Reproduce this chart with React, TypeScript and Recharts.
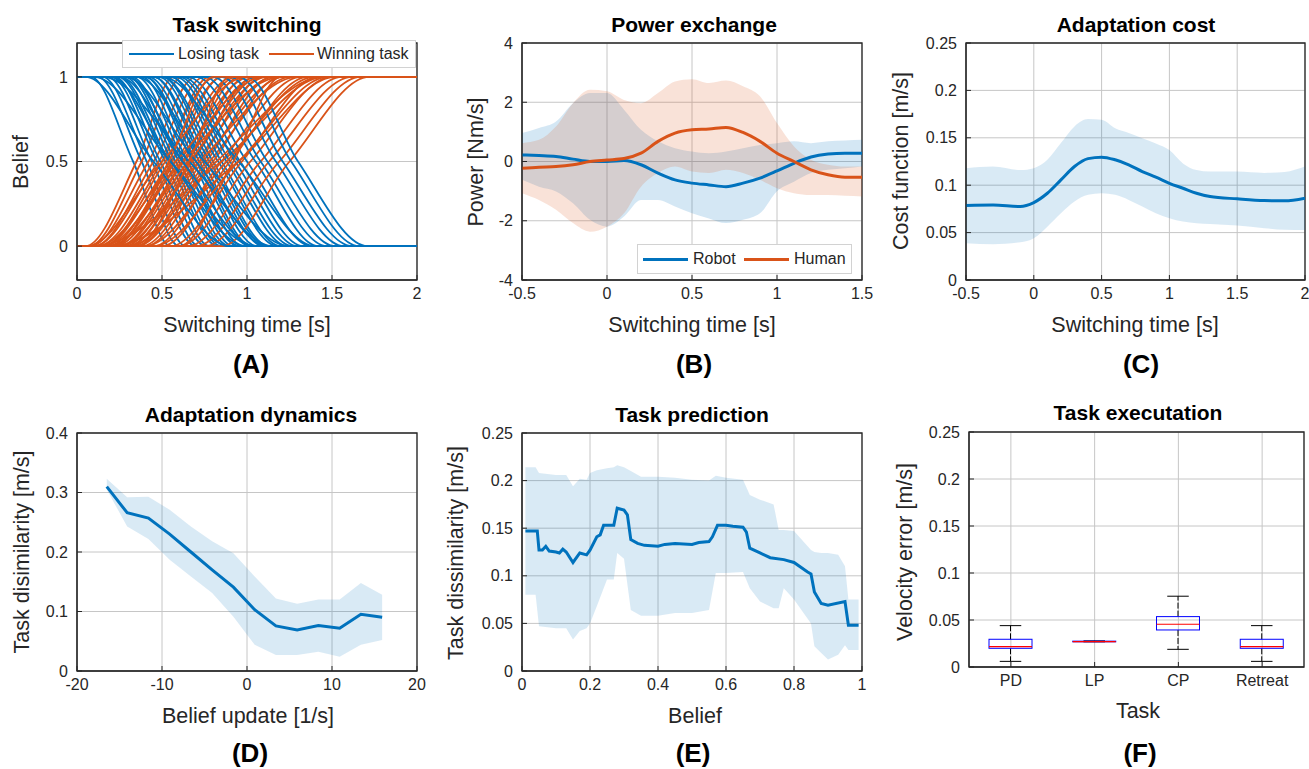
import React from 'react';
import { ComposedChart, Line, Area, Bar, XAxis, YAxis, CartesianGrid, ReferenceArea } from 'recharts';

const FONT = '"Liberation Sans", Arial, Helvetica, sans-serif';
const BLUE = '#0072BD';
const ORANGE = '#D95319';
const GRID = '#c6c6c6';
const AXIS = '#262626';

// ---------- Panel A: Task switching ----------
const switchTicksX = [0, 0.5, 1, 1.5, 2];
const beliefTicksY = [0, 0.5, 1];
// each curve: [time it leaves its start level, time it crosses 0.5, time it settles]
const losingTask: number[][] = [
  [0.08, 0.33, 0.55], [0.12, 0.38, 0.6], [0.15, 0.41, 0.64], [0.18, 0.44, 0.7], [0.2, 0.47, 0.72],
  [0.22, 0.49, 0.76], [0.24, 0.52, 0.78], [0.25, 0.54, 0.83], [0.28, 0.56, 0.85], [0.3, 0.58, 0.88],
  [0.32, 0.6, 0.9], [0.3, 0.62, 0.96], [0.35, 0.63, 0.92], [0.38, 0.65, 0.95], [0.4, 0.68, 0.98],
  [0.4, 0.7, 1.02], [0.42, 0.72, 1.03], [0.45, 0.74, 1.06], [0.45, 0.76, 1.1], [0.48, 0.78, 1.12],
  [0.5, 0.8, 1.13], [0.5, 0.83, 1.18], [0.55, 0.85, 1.2], [0.55, 0.88, 1.24], [0.58, 0.9, 1.27],
  [0.6, 0.93, 1.3], [0.62, 0.96, 1.33], [0.65, 1.0, 1.38], [0.7, 1.05, 1.42], [0.75, 1.08, 1.47],
  [0.8, 1.12, 1.52], [0.85, 1.17, 1.57], [0.9, 1.21, 1.62], [0.95, 1.26, 1.66], [1.0, 1.3, 1.71],
  [0.35, 0.75, 1.25], [0.2, 0.55, 1.0], [0.05, 0.45, 0.9], [0.1, 0.55, 1.05], [0.15, 0.66, 1.15],
  [0.28, 0.7, 1.12], [0.5, 0.95, 1.4], [0.25, 0.62, 1.05],
];
const winningTask: number[][] = [
  [0.05, 0.35, 0.57], [0.07, 0.38, 0.62], [0.08, 0.42, 0.7], [0.1, 0.45, 0.75], [0.1, 0.48, 0.82],
  [0.12, 0.5, 0.78], [0.15, 0.52, 0.86], [0.15, 0.55, 0.92], [0.18, 0.56, 0.85], [0.2, 0.58, 0.94],
  [0.2, 0.6, 1.02], [0.22, 0.62, 0.96], [0.25, 0.63, 1.06], [0.25, 0.65, 1.0], [0.28, 0.67, 1.12],
  [0.3, 0.68, 1.05], [0.3, 0.7, 1.16], [0.32, 0.72, 1.1], [0.35, 0.74, 1.22], [0.35, 0.76, 1.15],
  [0.38, 0.78, 1.26], [0.4, 0.8, 1.2], [0.1, 0.85, 1.46], [0.45, 0.85, 1.32], [0.5, 0.9, 1.36],
  [0.2, 0.95, 1.52], [0.55, 0.97, 1.42], [0.6, 1.02, 1.5], [0.65, 1.08, 1.56], [0.7, 1.13, 1.62],
  [0.75, 1.19, 1.67], [0.85, 1.25, 1.72], [0.15, 0.62, 1.2], [0.25, 0.72, 1.3], [0.4, 0.88, 1.4],
  [0.12, 0.58, 1.1], [0.3, 0.82, 1.45], [0.06, 0.5, 1.0], [0.18, 0.66, 1.08], [0.22, 0.54, 0.8],
  [0.35, 0.66, 0.9], [0.45, 0.95, 1.48], [0.6, 0.92, 1.2],
];

// ---------- Panel B: Power exchange ----------
const powerTicksX = [-0.5, 0, 0.5, 1, 1.5];
const powerTicksY = [-4, -2, 0, 2, 4];
const powerTime = [-0.5, -0.4, -0.3, -0.2, -0.1, 0, 0.1, 0.2, 0.3, 0.4, 0.5, 0.6, 0.7, 0.8, 0.9, 1.0, 1.1, 1.2, 1.3, 1.4, 1.5];
const robotMean = [0.22, 0.2, 0.17, 0.08, 0.0, 0.0, 0.03, -0.11, -0.39, -0.62, -0.73, -0.79, -0.85, -0.73, -0.56, -0.32, -0.06, 0.15, 0.25, 0.28, 0.28];
const robotUpper = [0.96, 1.13, 1.35, 1.97, 2.31, 2.31, 1.75, 1.07, 0.68, 0.45, 0.34, 0.28, 0.34, 0.45, 0.56, 0.62, 0.68, 0.62, 0.68, 0.71, 0.73];
const robotLower = [-0.62, -0.85, -1.01, -1.41, -1.97, -2.2, -1.86, -1.3, -1.3, -1.52, -1.75, -1.92, -2.08, -1.97, -1.75, -1.0, -0.68, -0.39, -0.28, -0.23, -0.17];
const humanMean = [-0.23, -0.19, -0.17, -0.11, 0.0, 0.05, 0.1, 0.28, 0.68, 0.96, 1.07, 1.1, 1.15, 0.98, 0.68, 0.28, 0.0, -0.28, -0.45, -0.53, -0.53];
const humanUpper = [0.62, 0.73, 1.18, 1.97, 2.42, 2.37, 2.08, 1.97, 2.31, 2.7, 2.78, 2.65, 2.73, 2.54, 2.2, 1.3, 0.51, 0.06, -0.11, -0.17, -0.17];
const humanLower = [-1.07, -1.3, -1.63, -2.08, -2.37, -2.2, -1.75, -0.85, -0.39, -0.17, -0.34, -0.39, -0.28, -0.39, -0.62, -0.9, -1.07, -1.13, -1.13, -1.16, -1.18];

// ---------- Panel C: Adaptation cost ----------
const costTicksX = [-0.5, 0, 0.5, 1, 1.5, 2];
const costTicksY = [0, 0.05, 0.1, 0.15, 0.2, 0.25];
const costTime = [-0.5, -0.3, -0.1, 0, 0.1, 0.2, 0.3, 0.4, 0.5, 0.6, 0.7, 0.8, 0.9, 1.0, 1.1, 1.2, 1.3, 1.5, 1.7, 1.85, 2.0];
const costMean = [0.0785, 0.079, 0.0775, 0.0817, 0.0915, 0.1056, 0.1197, 0.128, 0.1296, 0.1268, 0.1215, 0.1144, 0.1085, 0.102, 0.0968, 0.0915, 0.088, 0.0856, 0.0838, 0.0835, 0.0863];
const costUpper = [0.118, 0.1197, 0.116, 0.118, 0.1268, 0.1444, 0.162, 0.1697, 0.169, 0.16, 0.155, 0.1496, 0.144, 0.137, 0.123, 0.116, 0.1144, 0.1144, 0.113, 0.114, 0.1197];
const costLower = [0.0387, 0.0377, 0.0398, 0.044, 0.0563, 0.0704, 0.0827, 0.0898, 0.0915, 0.0898, 0.0845, 0.0775, 0.0704, 0.0651, 0.0616, 0.0599, 0.059, 0.0575, 0.0546, 0.053, 0.0528];

// ---------- Panel D: Adaptation dynamics ----------
const dynTicksX = [-20, -10, 0, 10, 20];
const dynTicksY = [0, 0.1, 0.2, 0.3, 0.4];
const beliefUpdate = [-16.5, -14.1, -11.6, -9.1, -6.6, -4.1, -1.6, 0.9, 3.4, 5.9, 8.4, 10.9, 13.4, 15.9];
const dynMean = [0.31, 0.266, 0.257, 0.23, 0.2, 0.17, 0.141, 0.103, 0.0757, 0.069, 0.0763, 0.0718, 0.0954, 0.0903];
const dynUpper = [0.323, 0.292, 0.293, 0.271, 0.243, 0.218, 0.198, 0.159, 0.122, 0.113, 0.12, 0.12, 0.148, 0.128];
const dynLower = [0.305, 0.243, 0.222, 0.187, 0.159, 0.131, 0.091, 0.044, 0.027, 0.027, 0.0325, 0.024, 0.044, 0.052];

// ---------- Panel E: Task prediction ----------
const predTicksX = [0, 0.2, 0.4, 0.6, 0.8, 1];
const predTicksY = [0, 0.05, 0.1, 0.15, 0.2, 0.25];
const predBelief = [0.01, 0.045, 0.05, 0.06, 0.07, 0.08, 0.1, 0.11, 0.12, 0.13, 0.15, 0.17, 0.19, 0.2, 0.22, 0.23, 0.24, 0.26, 0.27, 0.28, 0.3, 0.31, 0.32, 0.34, 0.36, 0.4, 0.42, 0.45, 0.5, 0.52, 0.55, 0.56, 0.575, 0.6, 0.62, 0.65, 0.66, 0.67, 0.7, 0.73, 0.77, 0.8, 0.84, 0.85, 0.86, 0.88, 0.9, 0.95, 0.96, 0.99];
const predMean = [0.147, 0.147, 0.127, 0.127, 0.131, 0.126, 0.125, 0.124, 0.128, 0.125, 0.114, 0.124, 0.122, 0.127, 0.141, 0.143, 0.153, 0.153, 0.153, 0.171, 0.169, 0.164, 0.138, 0.134, 0.132, 0.131, 0.133, 0.134, 0.133, 0.135, 0.136, 0.141, 0.153, 0.153, 0.152, 0.151, 0.146, 0.129, 0.124, 0.119, 0.117, 0.114, 0.104, 0.102, 0.083, 0.071, 0.069, 0.073, 0.048, 0.048];
const predBandBelief = [0.01, 0.04, 0.05, 0.1, 0.13, 0.15, 0.17, 0.19, 0.2, 0.22, 0.25, 0.27, 0.28, 0.3, 0.32, 0.35, 0.4, 0.45, 0.5, 0.55, 0.57, 0.6, 0.65, 0.67, 0.7, 0.74, 0.755, 0.77, 0.8, 0.85, 0.86, 0.88, 0.9, 0.93, 0.95, 0.96, 0.99];
const predUpper = [0.214, 0.214, 0.208, 0.206, 0.206, 0.194, 0.202, 0.201, 0.208, 0.211, 0.213, 0.214, 0.216, 0.214, 0.21, 0.204, 0.204, 0.203, 0.201, 0.2, 0.205, 0.203, 0.201, 0.185, 0.18, 0.175, 0.148, 0.148, 0.147, 0.127, 0.125, 0.124, 0.124, 0.122, 0.11, 0.075, 0.075];
const predLower = [0.08, 0.08, 0.047, 0.045, 0.045, 0.033, 0.042, 0.045, 0.05, 0.068, 0.096, 0.096, 0.124, 0.118, 0.064, 0.058, 0.058, 0.061, 0.061, 0.064, 0.103, 0.103, 0.104, 0.087, 0.073, 0.066, 0.066, 0.087, 0.075, 0.05, 0.026, 0.019, 0.012, 0.017, 0.027, 0.022, 0.022];

// ---------- Panel F: Task executation ----------
const execTicksY = [0, 0.05, 0.1, 0.15, 0.2, 0.25];
const taskNames = ['PD', 'LP', 'CP', 'Retreat'];
const whiskerLow = [0.006, 0.0268, 0.0188, 0.006];
const quartile1 = [0.0199, 0.0268, 0.0394, 0.0199];
const medians = [0.0217, 0.027, 0.0455, 0.0217];
const quartile3 = [0.0295, 0.0275, 0.0536, 0.0295];
const whiskerHigh = [0.044, 0.0278, 0.0753, 0.044];

// ---------- derived tables ----------
const sCurve = (c: number[], from: number, to: number) => [
  { x: 0, y: from },
  { x: c[0], y: from },
  { x: c[1], y: 0.5 },
  { x: c[2], y: to },
  { x: 2, y: to },
];
const powerData = powerTime.map((x, i) => ({
  x,
  robot: robotMean[i],
  human: humanMean[i],
  robotBand: [robotLower[i], robotUpper[i]],
  humanBand: [humanLower[i], humanUpper[i]],
}));
const costData = costTime.map((x, i) => ({ x, mean: costMean[i], band: [costLower[i], costUpper[i]] }));
const dynData = beliefUpdate.map((x, i) => ({ x, mean: dynMean[i], band: [dynLower[i], dynUpper[i]] }));
const predLineData = predBelief.map((x, i) => ({ x, mean: predMean[i] }));
const predBandData = predBandBelief.map((x, i) => ({ x, band: [predLower[i], predUpper[i]] }));
const execData = taskNames.map((task, i) => ({
  task,
  lo: whiskerLow[i],
  q1: quartile1[i],
  med: medians[i],
  q3: quartile3[i],
  hi: whiskerHigh[i],
}));

const tickFont = { fontSize: 16, fill: AXIS, fontFamily: FONT };
const axisCommon = {
  axisLine: { stroke: AXIS, strokeWidth: 1 },
  tickLine: { stroke: AXIS, strokeWidth: 1 },
  tickSize: -5,
};

function frameAxes(xDomain: number[] | null, xTicks: number[] | null, yDomain: number[], yTicks: number[]) {
  const xb = xDomain ? (
    <XAxis key="xb" xAxisId={0} dataKey="x" type="number" domain={xDomain} ticks={xTicks!} interval={0}
      allowDataOverflow height={30} tickMargin={13} tick={tickFont} {...axisCommon} />
  ) : (
    <XAxis key="xb" xAxisId={0} dataKey="task" type="category" interval={0} height={30} tickMargin={13}
      tick={tickFont} {...axisCommon} />
  );
  const box = xDomain ? (
    <ReferenceArea key="box" x1={xDomain[0]} x2={xDomain[1]} y1={yDomain[0]} y2={yDomain[1]}
      fill="none" stroke={AXIS} strokeWidth={1.3} ifOverflow="visible" />
  ) : (
    <ReferenceArea key="box" x1={taskNames[0]} x2={taskNames[taskNames.length - 1]} y1={yDomain[0]} y2={yDomain[1]}
      fill="none" stroke={AXIS} strokeWidth={1.3} ifOverflow="visible" />
  );
  return [
    <CartesianGrid key="grid" stroke={GRID} strokeWidth={1} />,
    xb,
    <YAxis key="yl" yAxisId={0} type="number" domain={yDomain} ticks={yTicks} interval={0} allowDataOverflow
      width={60} tickMargin={14} tick={tickFont} {...axisCommon} />,
    box,
  ];
}

type Frame = { left: number; top: number; w: number; h: number };
const MT = 10, MR = 22, YW = 60, XH = 30;
function Holder({ f, children }: { f: Frame; children: React.ReactNode }) {
  return <div style={{ position: 'absolute', left: f.left - YW, top: f.top - MT }}>{children}</div>;
}
const chartSize = (f: Frame) => ({
  width: YW + f.w + MR,
  height: MT + f.h + XH,
  margin: { top: MT, right: MR, bottom: 0, left: 0 },
});

const BoxShape = (props: any) => {
  const { x, y, width, height, payload } = props;
  if (!payload || !(payload.hi > 0)) return null;
  const py = (v: number) => y + height * (1 - v / payload.hi);
  const cx = x + width / 2;
  const cap = width / 4;
  return (
    <g>
      <line x1={cx} x2={cx} y1={py(payload.q3)} y2={py(payload.hi)} stroke="#000" strokeDasharray="6 2" />
      <line x1={cx} x2={cx} y1={py(payload.q1)} y2={py(payload.lo)} stroke="#000" strokeDasharray="6 2" />
      <line x1={cx - cap} x2={cx + cap} y1={py(payload.hi)} y2={py(payload.hi)} stroke="#000" />
      <line x1={cx - cap} x2={cx + cap} y1={py(payload.lo)} y2={py(payload.lo)} stroke="#000" />
      <rect x={x} y={py(payload.q3)} width={width} height={Math.max(0.5, py(payload.q1) - py(payload.q3))}
        fill="none" stroke="#0000FF" strokeWidth={1} />
      <line x1={x} x2={x + width} y1={py(payload.med)} y2={py(payload.med)} stroke="#FF0000" strokeWidth={1.2} />
    </g>
  );
};

function Txt({ x, y, size, bold, rotate, children }: any) {
  return (
    <div
      style={{
        position: 'absolute', left: x, top: y,
        transform: `translate(-50%, -50%)${rotate ? ' rotate(-90deg)' : ''}`,
        fontSize: size, fontWeight: bold ? 700 : 400, lineHeight: 1, whiteSpace: 'nowrap',
        color: bold ? '#000' : AXIS, fontFamily: FONT,
      }}
    >
      {children}
    </div>
  );
}

const fA: Frame = { left: 77, top: 43, w: 340, h: 237 };
const fB: Frame = { left: 522, top: 43, w: 340, h: 237 };
const fC: Frame = { left: 966, top: 43, w: 339, h: 237 };
const fD: Frame = { left: 77, top: 433, w: 340, h: 238 };
const fE: Frame = { left: 522, top: 433, w: 340, h: 238 };
const fF: Frame = { left: 969, top: 432, w: 335, h: 235 };

function LegendLine({ x, color, w }: { x: number; color: string; w: number }) {
  return <div style={{ position: 'absolute', left: x, top: '50%', width: 45, height: w, marginTop: -w / 2, background: color }} />;
}
function LegendText({ x, children }: any) {
  return (
    <div style={{ position: 'absolute', left: x, top: '50%', transform: 'translateY(-50%)', fontSize: 16, lineHeight: 1, color: AXIS, fontFamily: FONT, whiteSpace: 'nowrap' }}>
      {children}
    </div>
  );
}

export default function App() {
  const nCurves = Math.max(losingTask.length, winningTask.length);
  const curveLines: React.ReactNode[] = [];
  for (let i = 0; i < nCurves; i++) {
    if (losingTask[i]) {
      curveLines.push(
        <Line key={`l${i}`} data={sCurve(losingTask[i], 1, 0)} dataKey="y" type="monotone" stroke={BLUE}
          strokeWidth={1.8} dot={false} activeDot={false} isAnimationActive={false} />
      );
    }
    if (winningTask[i]) {
      curveLines.push(
        <Line key={`w${i}`} data={sCurve(winningTask[i], 0, 1)} dataKey="y" type="monotone" stroke={ORANGE}
          strokeWidth={1.8} dot={false} activeDot={false} isAnimationActive={false} />
      );
    }
  }

  return (
    <div style={{ position: 'absolute', left: 0, top: 0, width: 1309, height: 769, background: '#fff', overflow: 'hidden', fontFamily: FONT }}>
      {/* A */}
      <Holder f={fA}>
        <ComposedChart {...chartSize(fA)}>
          {frameAxes([0, 2], switchTicksX, [-0.2, 1.2], beliefTicksY)}
          {curveLines}
        </ComposedChart>
      </Holder>
      {/* B */}
      <Holder f={fB}>
        <ComposedChart {...chartSize(fB)} data={powerData}>
          {frameAxes([-0.5, 1.5], powerTicksX, [-4, 4], powerTicksY)}
          <Area dataKey="robotBand" type="monotone" stroke="none" fill={BLUE} fillOpacity={0.17} isAnimationActive={false} activeDot={false} />
          <Area dataKey="humanBand" type="monotone" stroke="none" fill={ORANGE} fillOpacity={0.17} isAnimationActive={false} activeDot={false} />
          <Line dataKey="robot" type="monotone" stroke={BLUE} strokeWidth={3} dot={false} activeDot={false} isAnimationActive={false} />
          <Line dataKey="human" type="monotone" stroke={ORANGE} strokeWidth={3} dot={false} activeDot={false} isAnimationActive={false} />
        </ComposedChart>
      </Holder>
      {/* C */}
      <Holder f={fC}>
        <ComposedChart {...chartSize(fC)} data={costData}>
          {frameAxes([-0.5, 2], costTicksX, [0, 0.25], costTicksY)}
          <Area dataKey="band" type="monotone" stroke="none" fill={BLUE} fillOpacity={0.15} isAnimationActive={false} activeDot={false} />
          <Line dataKey="mean" type="monotone" stroke={BLUE} strokeWidth={3} dot={false} activeDot={false} isAnimationActive={false} />
        </ComposedChart>
      </Holder>
      {/* D */}
      <Holder f={fD}>
        <ComposedChart {...chartSize(fD)} data={dynData}>
          {frameAxes([-20, 20], dynTicksX, [0, 0.4], dynTicksY)}
          <Area dataKey="band" type="linear" stroke="none" fill={BLUE} fillOpacity={0.15} isAnimationActive={false} activeDot={false} />
          <Line dataKey="mean" type="linear" stroke={BLUE} strokeWidth={3} dot={false} activeDot={false} isAnimationActive={false} />
        </ComposedChart>
      </Holder>
      {/* E */}
      <Holder f={fE}>
        <ComposedChart {...chartSize(fE)}>
          {frameAxes([0, 1], predTicksX, [0, 0.25], predTicksY)}
          <Area data={predBandData} dataKey="band" type="linear" stroke="none" fill={BLUE} fillOpacity={0.15} isAnimationActive={false} activeDot={false} />
          <Line data={predLineData} dataKey="mean" type="linear" stroke={BLUE} strokeWidth={3} dot={false} activeDot={false} isAnimationActive={false} />
        </ComposedChart>
      </Holder>
      {/* F */}
      <Holder f={fF}>
        <ComposedChart {...chartSize(fF)} data={execData}>
          {frameAxes(null, null, [0, 0.25], execTicksY)}
          <Bar dataKey="hi" barSize={43} shape={BoxShape} fill="none" isAnimationActive={false} activeBar={false} />
        </ComposedChart>
      </Holder>

      {/* legends */}
      <div style={{ position: 'absolute', left: 122, top: 40, width: 294, height: 28, background: '#fff', border: '1px solid #d2d2d2', boxSizing: 'border-box' }}>
        <LegendLine x={6} color={BLUE} w={2} />
        <LegendText x={55}>Losing task</LegendText>
        <LegendLine x={146} color={ORANGE} w={2} />
        <LegendText x={194}>Winning task</LegendText>
      </div>
      <div style={{ position: 'absolute', left: 637, top: 244, width: 215, height: 30, background: '#fff', border: '1px solid #d2d2d2', boxSizing: 'border-box' }}>
        <LegendLine x={5} color={BLUE} w={3} />
        <LegendText x={55}>Robot</LegendText>
        <LegendLine x={106} color={ORANGE} w={3} />
        <LegendText x={156}>Human</LegendText>
      </div>

      {/* titles */}
      <Txt x={247} y={24} size={21} bold>Task switching</Txt>
      <Txt x={694} y={24} size={21} bold>Power exchange</Txt>
      <Txt x={1136} y={24} size={21} bold>Adaptation cost</Txt>
      <Txt x={251} y={414} size={21} bold>Adaptation dynamics</Txt>
      <Txt x={692} y={414} size={21} bold>Task prediction</Txt>
      <Txt x={1138} y={412} size={21} bold>Task executation</Txt>

      {/* x labels */}
      <Txt x={247} y={326} size={21.5}>Switching time [s]</Txt>
      <Txt x={692} y={326} size={21.5}>Switching time [s]</Txt>
      <Txt x={1135} y={326} size={21.5}>Switching time [s]</Txt>
      <Txt x={248} y={717} size={21.5}>Belief update [1/s]</Txt>
      <Txt x={695} y={717} size={21.5}>Belief</Txt>
      <Txt x={1138} y={712} size={21.5}>Task</Txt>

      {/* y labels */}
      <Txt x={22} y={162} size={21.5} rotate>Belief</Txt>
      <Txt x={477} y={162} size={21.5} rotate>Power [Nm/s]</Txt>
      <Txt x={902} y={161} size={21.5} rotate>Cost function [m/s]</Txt>
      <Txt x={23} y={552} size={21.5} rotate>Task disimilarity [m/s]</Txt>
      <Txt x={457} y={553} size={21.5} rotate>Task dissimilarity [m/s]</Txt>
      <Txt x={906} y={552} size={21.5} rotate>Velocity error [m/s]</Txt>

      {/* panel letters */}
      <Txt x={251} y={364} size={26} bold>(A)</Txt>
      <Txt x={694} y={364} size={26} bold>(B)</Txt>
      <Txt x={1141} y={364} size={26} bold>(C)</Txt>
      <Txt x={250} y={753} size={26} bold>(D)</Txt>
      <Txt x={693} y={753} size={26} bold>(E)</Txt>
      <Txt x={1140} y={753} size={26} bold>(F)</Txt>
    </div>
  );
}
